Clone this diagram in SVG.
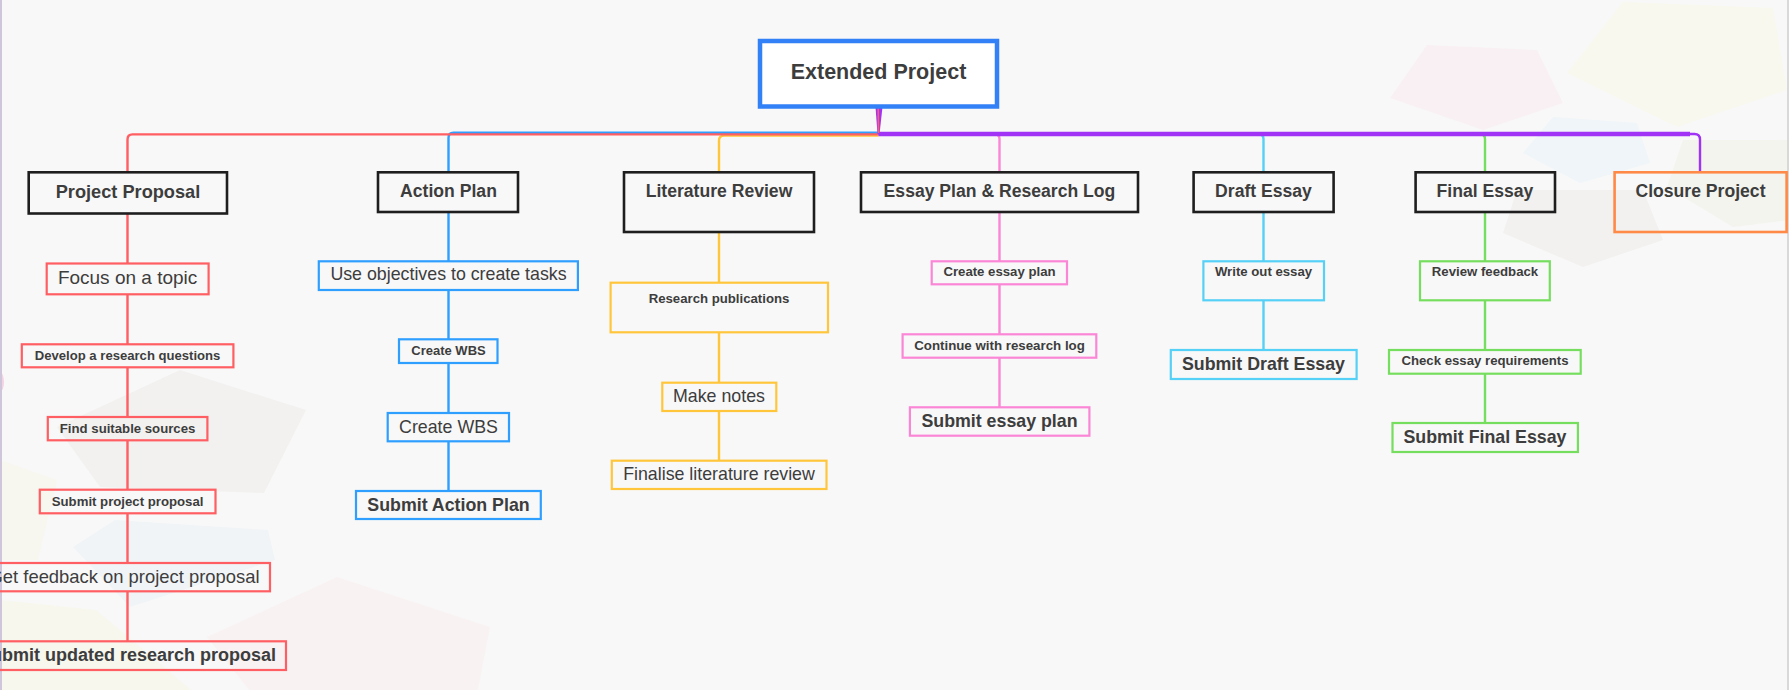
<svg xmlns="http://www.w3.org/2000/svg" width="1789" height="690" viewBox="0 0 1789 690">
<style>
.t{font-family:"Liberation Sans",Arial,sans-serif;fill:#3d3d3d;text-anchor:middle}
.b{font-weight:bold}
.l1{fill:none;stroke:#1e1e1e;stroke-width:2.6}
.n{fill:none;stroke-width:2.2}
.c{fill:none;stroke-width:2.4;stroke-linecap:butt}
.red{stroke:#ff5e62}.blue{stroke:#2f9fff}.yel{stroke:#ffc63c}.pink{stroke:#fb86d6}.cyan{stroke:#55d0f6}.grn{stroke:#76de5e}.pur{stroke:#a033f5}
</style>
<rect width="1789" height="690" fill="#f8f8f8"/>
<g id="background" stroke="none">
<polygon points="1427,45 1537,50 1563,103 1483,130 1390,98" fill="#f9f0f3"/>
<polygon points="1623,2 1773,8 1787,90 1677,127 1567,73" fill="#f8f8ee"/>
<polygon points="1553,117 1637,123 1650,163 1580,183 1523,153" fill="#eff5f8"/>
<polygon points="1517,190 1643,190 1663,240 1583,267 1503,233" fill="#f2f1ef"/>
<polygon points="1683,140 1789,140 1789,220 1733,227 1667,187" fill="#f3f4ee"/>
<polygon points="180,370 306,410 264,493 100,487 57,427" fill="#f2f1f0"/>
<polygon points="115,520 268,530 275,560 130,607 73,547" fill="#f0f4f7"/>
<polygon points="337,577 490,627 478,690 249,690 207,637" fill="#f9f2f3"/>
<polygon points="0,460 57,480 38,560 0,560" fill="#f7f6ef"/>
<polygon points="0,600 96,610 191,690 0,690" fill="#f7f7ee"/>
<ellipse cx="0" cy="382" rx="4" ry="10" fill="#f3d3e2"/>
<line x1="1" y1="0" x2="1" y2="690" stroke="#cfc6dc" stroke-width="2"/>
<line x1="1788" y1="0" x2="1788" y2="690" stroke="#cfcfcf" stroke-width="1.5"/>
</g>
<g id="connectors">
<path class="c blue" d="M878.5,132.8 H453.5 Q448.5,132.8 448.5,137.8 V172"/>
<path class="c yel" d="M878.5,135.6 H724 Q719,135.6 719,140.6 V172"/>
<path class="c red" d="M878.5,134.4 H132.5 Q127.5,134.4 127.5,139.4 V172"/>
<path class="c pink" d="M878.5,134 H994.5 Q999.5,134 999.5,139 V172"/>
<path class="c cyan" d="M878.5,134 H1258.5 Q1263.5,134 1263.5,139 V172"/>
<path class="c grn" d="M878.5,134 H1480 Q1485,134 1485,139 V172"/>
<path class="c pur" stroke-width="3" d="M878.5,134 H1694.5 Q1700,134 1700,139.5 V172"/>
<line class="pur" x1="878.5" y1="134" x2="1690" y2="134" stroke-width="4.5"/>
<polygon points="875.5,107 882.5,107 879.5,134 877.5,134" fill="#a033f5"/>
<line x1="878.2" y1="107" x2="878.5" y2="133" stroke="#ff5e62" stroke-width="1.6"/>
<path class="c red" d="M127.5,213.5 V264 M127.5,294.5 V344.5 M127.5,367.5 V417 M127.5,440.5 V490 M127.5,513.5 V563 M127.5,591.5 V641.5"/>
<path class="c blue" d="M448.5,212 V261.5 M448.5,290 V339.5 M448.5,363 V413 M448.5,441.5 V491"/>
<path class="c yel" d="M719,232 V283 M719,332.5 V383 M719,411 V461"/>
<path class="c pink" d="M999.5,212 V261.5 M999.5,284.5 V334.5 M999.5,358 V407.5"/>
<path class="c cyan" d="M1263.5,212 V261.5 M1263.5,300.5 V350"/>
<path class="c grn" d="M1485,212 V261.5 M1485,300.5 V350 M1485,374 V423"/>
</g>
<g id="root">
<rect x="760" y="41" width="237" height="65.5" fill="#ffffff" stroke="#3381f6" stroke-width="4.5"/>
<text class="t b" x="878.5" y="79" font-size="21.5">Extended Project</text>
</g>
<g id="project-proposal">
<rect class="l1" x="28.7" y="172.3" width="198.3" height="41.2"/>
<text class="t b" x="128" y="198" font-size="18.2">Project Proposal</text>
</g>
<g id="action-plan">
<rect class="l1" x="378" y="172.3" width="140" height="39.7"/>
<text class="t b" x="448.5" y="197" font-size="17.6">Action Plan</text>
</g>
<g id="literature-review">
<rect class="l1" x="624" y="172.3" width="190" height="59.7"/>
<text class="t b" x="719" y="197" font-size="17.6">Literature Review</text>
</g>
<g id="essay-plan">
<rect class="l1" x="861" y="172.3" width="277" height="39.7"/>
<text class="t b" x="999.5" y="197" font-size="17.6">Essay Plan &amp; Research Log</text>
</g>
<g id="draft-essay">
<rect class="l1" x="1193.6" y="172.3" width="140" height="39.7"/>
<text class="t b" x="1263.5" y="197" font-size="17.6">Draft Essay</text>
</g>
<g id="final-essay">
<rect class="l1" x="1415.6" y="172.3" width="139.4" height="39.7"/>
<text class="t b" x="1485" y="197" font-size="17.6">Final Essay</text>
</g>
<g id="closure-project">
<rect x="1614.6" y="172.3" width="172" height="59.7" fill="none" stroke="#ff8a48" stroke-width="2.6"/>
<text class="t b" x="1700.5" y="197" font-size="17.6">Closure Project</text>
</g>
<g id="focus-topic">
<rect class="n red" x="46.7" y="263.5" width="161.9" height="30.8"/>
<text class="t" x="127.6" y="284" font-size="19">Focus on a topic</text>
</g>
<g id="develop-questions">
<rect class="n red" x="21.8" y="344.3" width="211.6" height="23"/>
<text class="t b" x="127.6" y="360" font-size="13.1">Develop a research questions</text>
</g>
<g id="find-sources">
<rect class="n red" x="47.8" y="417" width="159.6" height="23.3"/>
<text class="t b" x="127.6" y="433" font-size="13.2">Find suitable sources</text>
</g>
<g id="submit-proposal">
<rect class="n red" x="39.8" y="489.7" width="175.7" height="23.6"/>
<text class="t b" x="127.6" y="505.5" font-size="13.2">Submit project proposal</text>
</g>
<g id="get-feedback">
<rect class="n red" x="-15" y="563" width="285" height="28.3"/>
<text class="t" x="124" y="582.5" font-size="18.4">Get feedback on project proposal</text>
</g>
<g id="submit-updated">
<rect class="n red" x="-31" y="641.3" width="317" height="28.7"/>
<text class="t b" x="127.5" y="661" font-size="18">Submit updated research proposal</text>
</g>
<g id="use-objectives">
<rect class="n blue" x="318.8" y="261.3" width="259.1" height="28.7"/>
<text class="t" x="448.5" y="280" font-size="17.8">Use objectives to create tasks</text>
</g>
<g id="create-wbs-1">
<rect class="n blue" x="399" y="339.3" width="98.5" height="23.7"/>
<text class="t b" x="448.5" y="355" font-size="13">Create WBS</text>
</g>
<g id="create-wbs-2">
<rect class="n blue" x="387.7" y="413" width="121.3" height="28.3"/>
<text class="t" x="448.5" y="432.5" font-size="17.8">Create WBS</text>
</g>
<g id="submit-action-plan">
<rect class="n blue" x="356" y="491" width="184.8" height="28"/>
<text class="t b" x="448.5" y="510.5" font-size="17.8">Submit Action Plan</text>
</g>
<g id="research-publications">
<rect class="n yel" x="610.6" y="282.7" width="217.4" height="49.6"/>
<text class="t b" x="719" y="302.7" font-size="13.2">Research publications</text>
</g>
<g id="make-notes">
<rect class="n yel" x="662.3" y="382.7" width="114" height="28.3"/>
<text class="t" x="719" y="401.7" font-size="17.8">Make notes</text>
</g>
<g id="finalise-review">
<rect class="n yel" x="611.8" y="460.7" width="214.7" height="28.3"/>
<text class="t" x="719" y="479.5" font-size="17.8">Finalise literature review</text>
</g>
<g id="create-essay-plan">
<rect class="n pink" x="931.7" y="261.3" width="135.3" height="23"/>
<text class="t b" x="999.5" y="276" font-size="13.2">Create essay plan</text>
</g>
<g id="continue-log">
<rect class="n pink" x="902.6" y="334.3" width="193.7" height="23.4"/>
<text class="t b" x="999.5" y="349.5" font-size="13.3">Continue with research log</text>
</g>
<g id="submit-essay-plan">
<rect class="n pink" x="909.9" y="407.3" width="179.5" height="28.4"/>
<text class="t b" x="999.5" y="427" font-size="17.8">Submit essay plan</text>
</g>
<g id="write-essay">
<rect class="n cyan" x="1203.4" y="261.3" width="120.6" height="39"/>
<text class="t b" x="1263.5" y="276" font-size="13.2">Write out essay</text>
</g>
<g id="submit-draft">
<rect class="n cyan" x="1170.8" y="350" width="185.8" height="29"/>
<text class="t b" x="1263.5" y="369.5" font-size="17.8">Submit Draft Essay</text>
</g>
<g id="review-feedback">
<rect class="n grn" x="1420" y="261.3" width="129.8" height="39"/>
<text class="t b" x="1485" y="276" font-size="13.2">Review feedback</text>
</g>
<g id="check-requirements">
<rect class="n grn" x="1389" y="350" width="191.7" height="23.7"/>
<text class="t b" x="1485" y="365" font-size="13.2">Check essay requirements</text>
</g>
<g id="submit-final">
<rect class="n grn" x="1392.5" y="423" width="185.4" height="29"/>
<text class="t b" x="1485" y="443" font-size="17.8">Submit Final Essay</text>
</g>
</svg>
